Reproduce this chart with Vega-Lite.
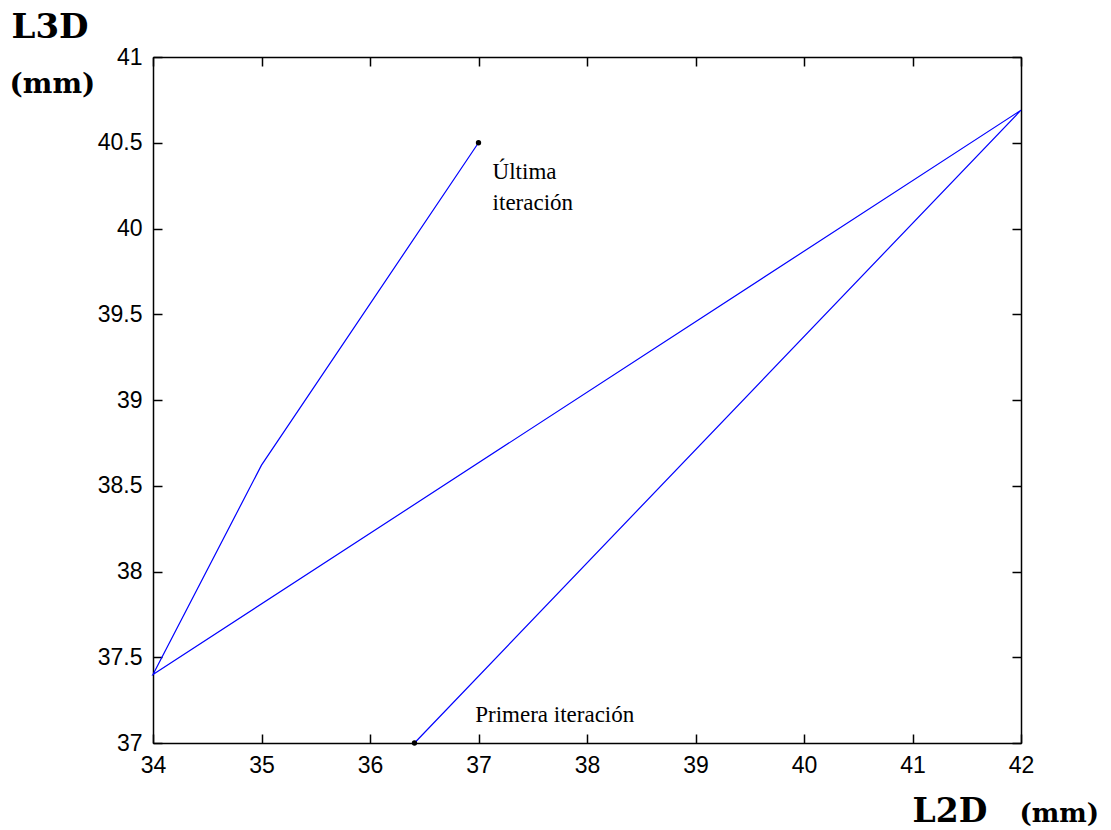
{
  "$schema": "https://vega.github.io/schema/vega-lite/v6.json",
  "width": 868,
  "height": 686,
  "autosize": "none",
  "padding": {"left": 153, "top": 57, "right": 90, "bottom": 87},
  "background": "white",
  "config": {
    "view": {"stroke": "black", "strokeWidth": 1},
    "axis": {
      "grid": false,
      "domainColor": "black",
      "domainWidth": 1.5,
      "tickColor": "black",
      "tickWidth": 1.5,
      "tickSize": -9,
      "labelFlush": false,
      "labelOverlap": false,
      "labelFont": "Liberation Sans",
      "labelFontSize": 23,
      "labelColor": "black",
      "labelFontWeight": "normal"
    }
  },
  "datasets": {
    "path": [
      {"step": 1, "L2D": 36.41, "L3D": 37.0},
      {"step": 2, "L2D": 42.0, "L3D": 40.69},
      {"step": 3, "L2D": 34.0, "L3D": 37.4},
      {"step": 4, "L2D": 35.0, "L3D": 38.62},
      {"step": 5, "L2D": 37.0, "L3D": 40.5}
    ],
    "marks": [
      {"L2D": 36.41, "L3D": 37.0},
      {"L2D": 37.0, "L3D": 40.5}
    ],
    "notes": [
      {"L2D": 37.13, "L3D": 40.29, "label": ["Última", "iteración"]},
      {"L2D": 36.97, "L3D": 37.12, "label": ["Primera iteración"]}
    ]
  },
  "layer": [
    {
      "data": {"name": "path"},
      "mark": {"type": "line", "color": "#0000ff", "strokeWidth": 1.2},
      "encoding": {
        "x": {
          "field": "L2D", "type": "quantitative",
          "scale": {"domain": [34, 42], "nice": false, "zero": false},
          "axis": {
            "orient": "bottom",
            "values": [34, 35, 36, 37, 38, 39, 40, 41, 42],
            "format": "~g",
            "labelPadding": 20,
            "title": "L2D",
            "titleFont": "DejaVu Serif",
            "titleFontWeight": "bold",
            "titleFontSize": 33,
            "titleColor": "black",
            "titleAlign": "left",
            "titleBaseline": "alphabetic",
            "titleAnchor": "start",
            "titleX": 759,
            "titleY": 78
          }
        },
        "y": {
          "field": "L3D", "type": "quantitative",
          "scale": {"domain": [37, 41], "nice": false, "zero": false},
          "axis": {
            "orient": "left",
            "values": [37, 37.5, 38, 38.5, 39, 39.5, 40, 40.5, 41],
            "format": "~g",
            "labelPadding": 20,
            "title": "L3D",
            "titleFont": "DejaVu Serif",
            "titleFontWeight": "bold",
            "titleFontSize": 34,
            "titleColor": "black",
            "titleAngle": 0,
            "titleAlign": "left",
            "titleBaseline": "alphabetic",
            "titleX": -142,
            "titleY": -20
          }
        },
        "order": {"field": "step", "type": "quantitative"}
      }
    },
    {
      "data": {"name": "marks"},
      "mark": {"type": "point", "filled": true, "color": "black", "size": 28, "opacity": 1},
      "encoding": {
        "x": {
          "field": "L2D", "type": "quantitative",
          "scale": {"domain": [34, 42], "nice": false, "zero": false},
          "axis": {
            "orient": "top",
            "values": [34, 35, 36, 37, 38, 39, 40, 41, 42],
            "labels": false,
            "title": "(mm)",
            "titleFont": "DejaVu Serif",
            "titleFontWeight": "bold",
            "titleFontSize": 26,
            "titleColor": "black",
            "titleAlign": "left",
            "titleBaseline": "alphabetic",
            "titleAnchor": "start",
            "titleX": 866,
            "titleY": 764
          }
        },
        "y": {
          "field": "L3D", "type": "quantitative",
          "scale": {"domain": [37, 41], "nice": false, "zero": false},
          "axis": {
            "orient": "right",
            "values": [37, 37.5, 38, 38.5, 39, 39.5, 40, 40.5, 41],
            "labels": false,
            "title": "(mm)",
            "titleFont": "DejaVu Serif",
            "titleFontWeight": "bold",
            "titleFontSize": 28,
            "titleColor": "black",
            "titleAngle": 0,
            "titleAlign": "left",
            "titleBaseline": "alphabetic",
            "titleX": -1012,
            "titleY": 35
          }
        }
      }
    },
    {
      "data": {"name": "notes"},
      "mark": {
        "type": "text",
        "font": "Liberation Serif",
        "fontSize": 23,
        "color": "black",
        "align": "left",
        "baseline": "alphabetic",
        "lineHeight": 31
      },
      "encoding": {
        "x": {"field": "L2D", "type": "quantitative", "axis": null},
        "y": {"field": "L3D", "type": "quantitative", "axis": null},
        "text": {"field": "label"}
      }
    }
  ],
  "resolve": {"axis": {"x": "independent", "y": "independent"}}
}
